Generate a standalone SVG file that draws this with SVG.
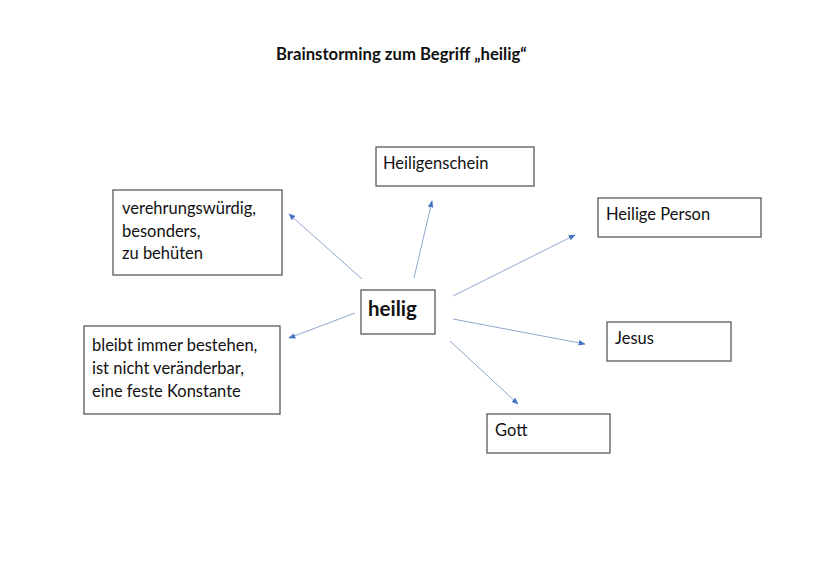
<svg xmlns="http://www.w3.org/2000/svg" width="828" height="586" viewBox="0 0 828 586">
<defs>
<style>
.box{fill:#fff;stroke:#595959;stroke-width:1.3}
.t{font-family:Lato,"Open Sans","Liberation Sans",sans-serif;font-size:16.5px;fill:#111}
.b{font-weight:bold}
.ttl{font-size:16.7px}
.big{font-size:20.5px}
.c{stroke:#8fa6cf;stroke-width:1;fill:none;marker-end:url(#ah)}
</style>
<marker id="ah" viewBox="0 0 10 10" refX="9" refY="5" markerWidth="7" markerHeight="7" markerUnits="userSpaceOnUse" orient="auto">
<path d="M0,1 L10,5 L0,9 z" fill="#4472c4"/>
</marker>
</defs>
<rect width="828" height="586" fill="#fff"/>
<text class="t b ttl" x="276" y="60">Brainstorming zum Begriff „heilig“</text>
<g id="connectors">
<line class="c" x1="362" y1="279" x2="289" y2="214"/>
<line class="c" x1="414" y1="278" x2="432" y2="201"/>
<line class="c" x1="453" y1="296" x2="575" y2="235"/>
<line class="c" x1="453" y1="319" x2="585" y2="344"/>
<line class="c" x1="450" y1="341" x2="518" y2="404"/>
<line class="c" x1="355" y1="313" x2="289" y2="338"/>
</g>
<g id="n-verehrung">
<rect class="box" x="113" y="190" width="169" height="85"/>
<text class="t" x="122" y="214">verehrungswürdig,</text>
<text class="t" x="122" y="237">besonders,</text>
<text class="t" x="122" y="259">zu behüten</text>
</g>
<g id="n-heiligenschein">
<rect class="box" x="376" y="147" width="158" height="39"/>
<text class="t" x="383" y="169">Heiligenschein</text>
</g>
<g id="n-person">
<rect class="box" x="598" y="198" width="163" height="39"/>
<text class="t" x="606" y="220">Heilige Person</text>
</g>
<g id="n-heilig">
<rect class="box" x="361" y="290" width="74" height="44"/>
<text class="t b big" x="368" y="316">heilig</text>
</g>
<g id="n-jesus">
<rect class="box" x="607" y="322" width="124" height="39"/>
<text class="t" x="615" y="344">Jesus</text>
</g>
<g id="n-gott">
<rect class="box" x="487" y="414" width="123" height="39"/>
<text class="t" x="495" y="436">Gott</text>
</g>
<g id="n-bleibt">
<rect class="box" x="84" y="326" width="196" height="88"/>
<text class="t" x="92" y="351">bleibt immer bestehen,</text>
<text class="t" x="92" y="374">ist nicht veränderbar,</text>
<text class="t" x="92" y="397">eine feste Konstante</text>
</g>
</svg>
